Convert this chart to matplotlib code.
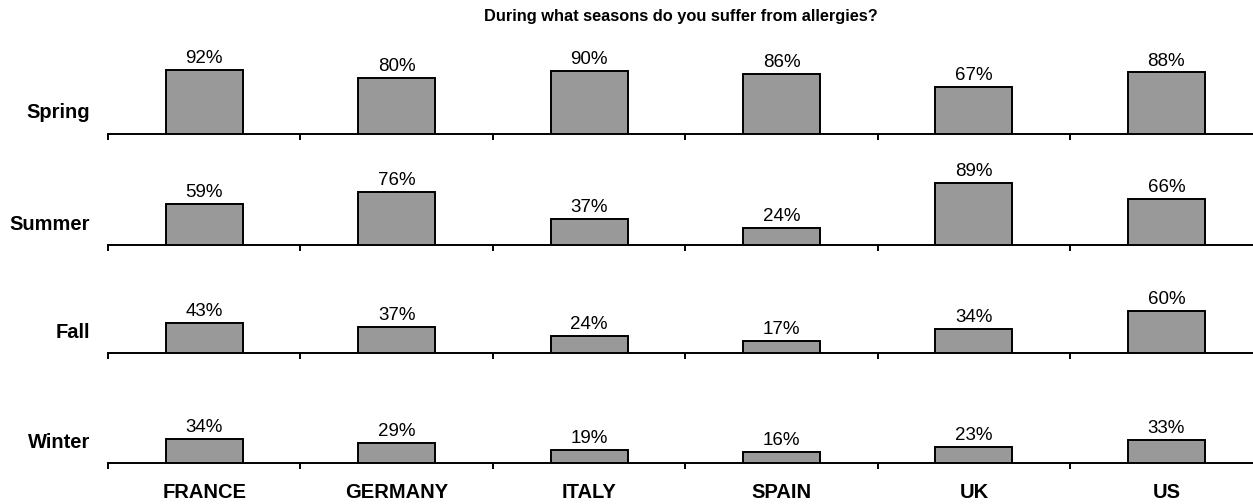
import numpy as np
import matplotlib.pyplot as plt

plt.rcParams['font.family'] = ['Liberation Sans', 'DejaVu Sans']

countries = ['FRANCE', 'GERMANY', 'ITALY', 'SPAIN', 'UK', 'US']
seasons = ['Spring', 'Summer', 'Fall', 'Winter']
spring = [92, 80, 90, 86, 67, 88]
summer = [59, 76, 37, 24, 89, 66]
fall = [43, 37, 24, 17, 34, 60]
winter = [34, 29, 19, 16, 23, 33]
title = 'During what seasons do you suffer from allergies?'

W, H = 1253, 504
fig = plt.figure(figsize=(W / 100, H / 100), dpi=100)

baselines = [134, 245, 353, 463]   # pixel rows of each baseline, from top
ax_left, ax_right = 108, 1253
ax_h = 90
px_per_pct = 0.70

x = np.arange(len(countries))
for season, vals, base in zip(seasons, [spring, summer, fall, winter], baselines):
    ax = fig.add_axes([ax_left / W, (H - base) / H, (ax_right - ax_left) / W, ax_h / H])
    ax.bar(x, vals, width=0.4, color='#999999', edgecolor='black', linewidth=1.4, zorder=3)
    for xi, v in zip(x, vals):
        ax.annotate(f'{v}%', (xi, v), xytext=(0, 2), textcoords='offset points',
                    ha='center', va='bottom', fontsize=13.5)
    ax.set_xlim(-0.5, 5.45)
    ax.set_ylim(0, ax_h / px_per_pct)
    for side in ['top', 'right', 'left']:
        ax.spines[side].set_visible(False)
    ax.spines['bottom'].set_linewidth(1.4)
    ax.set_yticks([])
    ax.set_xticks(np.arange(-0.5, 5.5, 1.0))
    ax.tick_params(axis='x', direction='out', length=4, width=1.4, labelbottom=False)
    ax.patch.set_alpha(0)
    fig.text(90 / W, (H - base + 21) / H, season, ha='right', va='center',
             fontsize=14.5, fontweight='bold')

for xi, c in zip(x, countries):
    px = ax_left + (xi + 0.5) / 5.95 * (ax_right - ax_left)
    fig.text(px / W, (H - 493) / H, c, ha='center', va='center',
             fontsize=14.5, fontweight='bold')

fig.text((ax_left + ax_right) / 2 / W, (H - 17) / H, title, ha='center', va='center',
         fontsize=11.8, fontweight='bold')

fig.savefig('out.png', dpi=100)
